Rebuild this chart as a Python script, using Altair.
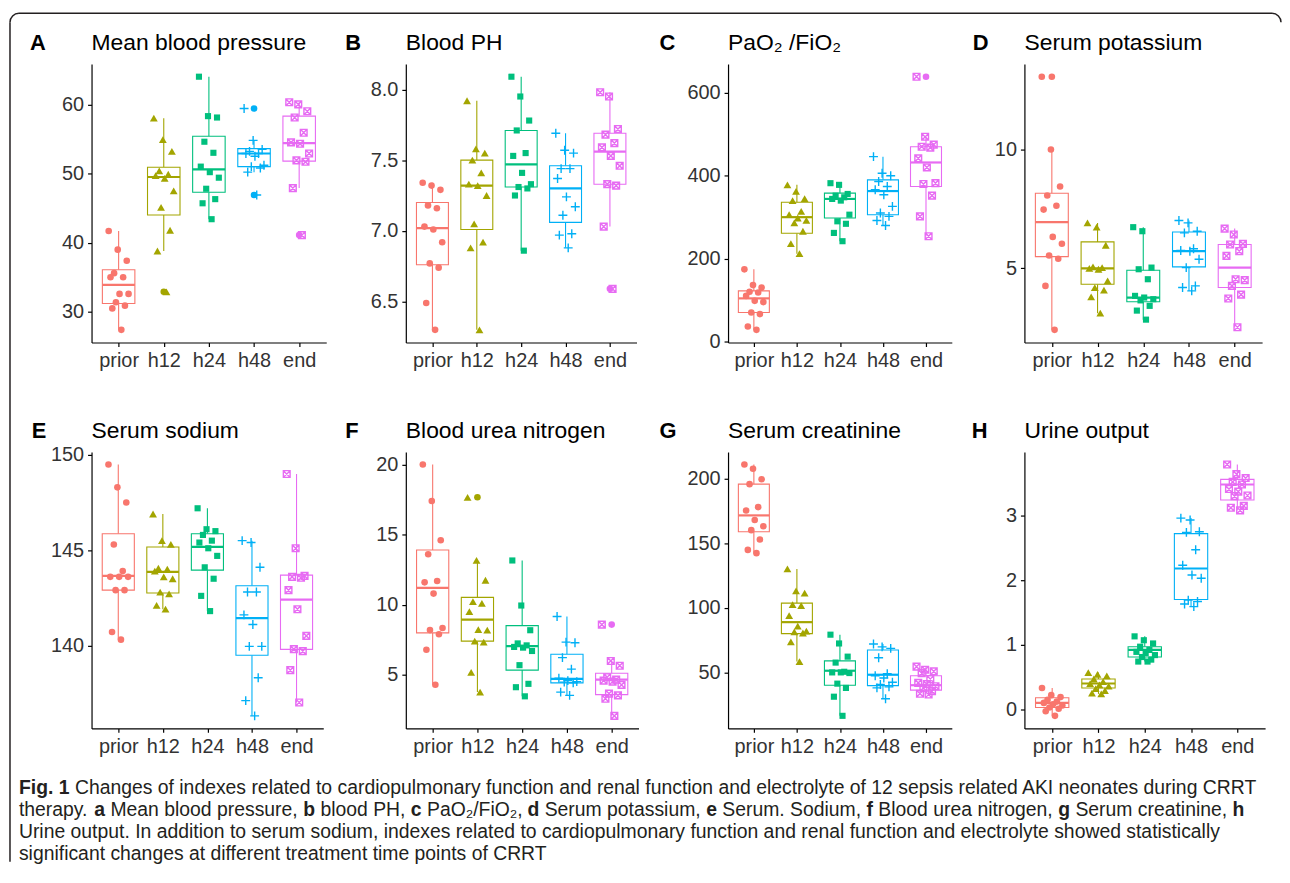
import altair as alt
import pandas as pd

GROUPS = ["prior", "h12", "h24", "h48", "end"]
COLORS = ["#F8766D", "#A3A500", "#00BF7D", "#00B0F6", "#E76BF3"]

# ---------------- A: Mean blood pressure ----------------
mbp_pts = [
    [41.7, 39.0, 37.4, 35.6, 35.0, 35.0, 32.6, 32.6, 31.4, 30.9, 30.5, 27.4],
    [58.0, 54.9, 53.2, 50.4, 49.9, 49.7, 49.3, 47.5, 45.1, 41.8, 38.8, 32.9],
    [64.0, 58.3, 58.1, 54.6, 53.0, 51.0, 50.2, 49.4, 47.8, 46.3, 45.7, 43.4],
    [59.4, 54.8, 53.5, 53.2, 52.9, 52.9, 52.5, 51.2, 51.0, 50.8, 50.2, 46.9],
    [60.3, 60.0, 59.0, 58.1, 55.9, 54.5, 54.3, 52.9, 51.9, 51.7, 47.9, 41.1],
]
mbp_box = [
    [27.4, 31.2, 33.9, 36.1, 41.7],
    [38.8, 44.0, 49.5, 50.9, 58.0],
    [43.4, 47.3, 50.6, 55.4, 64.0],
    [50.2, 51.0, 52.9, 53.6, 54.8],
    [47.9, 51.8, 54.4, 58.3, 60.3],
]
mbp_out = [[], [32.9], [], [59.4, 46.9], [41.1]]

# ---------------- B: Blood PH ----------------
ph_pts = [
    [7.34, 7.32, 7.29, 7.18, 7.16, 7.03, 7.01, 6.92, 6.77, 6.74, 6.49, 6.30],
    [7.92, 7.58, 7.55, 7.50, 7.41, 7.33, 7.32, 7.25, 7.05, 6.92, 6.88, 6.30],
    [8.09, 7.95, 7.78, 7.71, 7.55, 7.53, 7.41, 7.33, 7.31, 7.30, 7.25, 6.86],
    [7.69, 7.57, 7.55, 7.44, 7.44, 7.37, 7.24, 7.17, 7.11, 6.98, 6.97, 6.88],
    [7.98, 7.95, 7.72, 7.68, 7.62, 7.59, 7.53, 7.46, 7.33, 7.32, 7.03, 6.59],
]
ph_box = [
    [6.30, 6.76, 7.02, 7.20, 7.34],
    [6.30, 7.01, 7.32, 7.50, 7.92],
    [6.86, 7.31, 7.47, 7.71, 8.09],
    [6.88, 7.06, 7.30, 7.46, 7.69],
    [7.03, 7.33, 7.56, 7.69, 7.98],
]
ph_out = [[], [], [], [], [6.59]]

# ---------------- C: PaO2/FiO2 ----------------
pf_pts = [
    [174, 136, 130, 120, 118, 110, 98, 95, 70, 66, 36, 28],
    [378, 362, 345, 340, 314, 306, 298, 292, 286, 266, 236, 212],
    [382, 378, 356, 352, 348, 344, 340, 306, 290, 284, 262, 242],
    [446, 406, 400, 386, 374, 366, 354, 326, 310, 302, 292, 280],
    [639, 494, 475, 470, 468, 442, 420, 382, 380, 352, 302, 254],
]
pf_box = [
    [28, 70, 104, 122, 174],
    [212, 261, 300, 336, 378],
    [242, 298, 344, 358, 382],
    [280, 306, 363, 390, 446],
    [254, 374, 432, 470, 494],
]
pf_out = [[], [], [], [], [639]]

# ---------------- D: Serum potassium ----------------
k_pts = [
    [13.06, 10.0, 8.44, 8.06, 7.63, 7.47, 6.32, 6.03, 5.54, 5.40, 4.26, 2.41],
    [6.91, 6.73, 5.97, 5.06, 5.03, 5.00, 4.96, 4.47, 4.19, 4.08, 3.80, 3.11],
    [6.73, 6.56, 5.03, 4.96, 4.54, 3.84, 3.77, 3.70, 3.65, 3.42, 3.22, 2.84],
    [7.01, 6.91, 6.56, 6.49, 5.82, 5.75, 5.72, 5.38, 5.03, 4.26, 4.19, 4.05],
    [6.67, 6.42, 6.03, 6.00, 5.72, 5.52, 4.54, 4.50, 4.26, 3.89, 3.73, 2.52],
]
k_box = [
    [2.41, 5.49, 6.94, 8.16, 10.0],
    [3.11, 4.33, 5.00, 6.11, 6.91],
    [2.84, 3.59, 3.77, 4.92, 6.73],
    [4.05, 5.06, 5.72, 6.53, 7.01],
    [2.52, 4.19, 5.03, 6.00, 6.67],
]
k_out = [[13.06], [], [], [], []]

# ---------------- E: Serum sodium ----------------
na_pts = [
    [149.5, 148.3, 147.5, 145.3, 143.9, 143.6, 143.6, 143.6, 142.9, 142.9, 140.7, 140.3],
    [146.9, 145.5, 145.3, 144.05, 144.0, 143.9, 143.6, 143.5, 142.8, 142.7, 142.1, 141.9],
    [147.2, 146.1, 146.0, 145.8, 145.5, 145.4, 145.1, 144.7, 144.1, 143.5, 142.6, 141.8],
    [145.5, 145.4, 144.1, 142.8, 142.8, 141.6, 141.1, 139.95, 139.95, 138.3, 137.1, 136.3],
    [149.0, 145.1, 143.65, 143.6, 143.55, 142.9, 141.9, 140.5, 139.8, 139.7, 138.7, 137.0],
]
na_box = [
    [140.3, 142.9, 143.65, 145.86, 149.5],
    [141.9, 142.75, 143.86, 145.17, 146.9],
    [141.8, 143.95, 145.17, 145.86, 147.2],
    [136.3, 139.48, 141.43, 143.13, 145.5],
    [137.0, 139.79, 142.4, 143.69, 149.0],
]
na_out = [[], [], [], [], []]

# ---------------- F: Blood urea nitrogen ----------------
bun_pts = [
    [20.0, 17.4, 14.6, 13.6, 11.7, 11.6, 10.8, 8.35, 8.2, 7.9, 6.8, 4.3],
    [17.66, 13.16, 11.75, 10.23, 10.11, 9.52, 8.23, 8.2, 7.41, 7.34, 5.19, 3.78],
    [13.16, 9.95, 8.19, 7.25, 7.11, 7.0, 6.95, 6.71, 5.70, 4.37, 4.13, 3.48],
    [9.17, 7.34, 7.30, 6.24, 5.42, 4.77, 4.60, 4.53, 4.49, 4.45, 3.78, 3.55],
    [8.59, 6.0, 5.66, 4.84, 4.67, 4.60, 4.53, 4.30, 3.67, 3.55, 3.31, 2.09],
]
bun_box = [
    [4.3, 8.0, 11.21, 13.91, 20.0],
    [3.78, 7.41, 8.94, 10.53, 13.16],
    [3.48, 5.35, 7.06, 8.52, 13.16],
    [3.55, 4.44, 4.72, 6.48, 9.17],
    [2.09, 3.60, 4.67, 5.12, 6.0],
]
bun_out = [[], [17.66], [], [], [8.59]]

# ---------------- G: Serum creatinine ----------------
cr_pts = [
    [210.9, 207.6, 199.5, 195.7, 177.9, 175.3, 167.9, 163.1, 160.1, 152.9, 144.8, 142.3],
    [130.1, 113.1, 111.3, 102.4, 101.6, 94.0, 85.8, 82.0, 81.3, 80.5, 73.6, 58.4],
    [79.2, 72.4, 62.2, 57.6, 50.5, 50.0, 50.0, 49.5, 41.3, 38.0, 31.2, 16.4],
    [72.0, 69.8, 68.6, 61.4, 49.0, 47.4, 45.7, 42.4, 40.6, 38.8, 38.0, 29.6],
    [54.5, 52.1, 50.8, 49.5, 44.9, 41.9, 41.0, 39.3, 38.0, 35.5, 33.5, 32.9],
]
cr_box = [
    [142.3, 158.8, 171.5, 195.7, 210.9],
    [58.4, 80.0, 88.9, 103.6, 130.1],
    [16.4, 40.1, 51.3, 58.9, 79.2],
    [29.6, 39.8, 48.2, 67.3, 72.0],
    [32.9, 36.3, 40.1, 47.4, 54.5],
]
cr_out = [[], [], [], [], []]

# ---------------- H: Urine output ----------------
uo_pts = [
    [0.33, 0.22, 0.19, 0.15, 0.12, 0.10, 0.08, 0.06, 0.03, 0.01, -0.03, -0.10],
    [0.57, 0.54, 0.52, 0.47, 0.43, 0.40, 0.38, 0.36, 0.32, 0.29, 0.25, 0.24],
    [1.13, 1.07, 1.02, 0.97, 0.92, 0.89, 0.87, 0.84, 0.81, 0.77, 0.74, 0.74],
    [2.96, 2.93, 2.75, 2.74, 2.47, 2.23, 2.08, 2.03, 1.69, 1.67, 1.63, 1.59],
    [3.79, 3.64, 3.58, 3.52, 3.48, 3.41, 3.37, 3.31, 3.30, 3.15, 3.12, 3.08],
]
uo_box = [
    [-0.10, 0.03, 0.10, 0.18, 0.33],
    [0.24, 0.33, 0.40, 0.47, 0.57],
    [0.74, 0.81, 0.92, 0.97, 1.13],
    [1.59, 1.70, 2.18, 2.72, 2.96],
    [3.08, 3.24, 3.48, 3.56, 3.79],
]
uo_out = [[], [], [], [], []]

CAPTION = [
    [("Fig. 1", True),
     (" Changes of indexes related to cardiopulmonary function and renal function and electrolyte of 12 sepsis related AKI neonates during CRRT", False)],
    [("therapy. ", False), ("a", True), (" Mean blood pressure, ", False), ("b", True),
     (" blood PH, ", False), ("c", True), (" PaO\u2082/FiO\u2082, ", False), ("d", True),
     (" Serum potassium, ", False), ("e", True), (" Serum. Sodium, ", False), ("f", True),
     (" Blood urea nitrogen, ", False), ("g", True), (" Serum creatinine, ", False), ("h", True)],
    [("Urine output. In addition to serum sodium, indexes related to cardiopulmonary function and renal function and electrolyte showed statistically", False)],
    [("significant changes at different treatment time points of CRRT", False)],
]

# ---------------- styling ----------------
FONT = "Liberation Sans, Arial, Helvetica, sans-serif"
SHAPES = ["circle", "triangle-up", "square", "M-1,0H1M0,-1V1",
          "M-1,-1H1V1H-1ZM-1,-1L1,1M-1,1L1,-1"]
SIZES = [44, 62, 38, 80, 46]
FILLED = [True, True, True, False, False]
FRAME_C = "#231F20"

PANELS = [
    dict(letter="A", title="Mean blood pressure", pts=mbp_pts, box=mbp_box, out=mbp_out,
         ticks=[30, 40, 50, 60], fmt="d", w=236, h=280, ldx=-62, frame=True),
    dict(letter="B", title="Blood PH", pts=ph_pts, box=ph_box, out=ph_out,
         ticks=[6.5, 7.0, 7.5, 8.0], fmt=".1f", w=232, h=280, ldx=-61),
    dict(letter="C", title="PaO\u2082 /FiO\u2082", pts=pf_pts, box=pf_box, out=pf_out,
         ticks=[0, 200, 400, 600], fmt="d", w=225, h=280, ldx=-69),
    dict(letter="D", title="Serum potassium", pts=k_pts, box=k_box, out=k_out,
         ticks=[5, 10], fmt="d", w=239, h=280, ldx=-52),
    dict(letter="E", title="Serum sodium", pts=na_pts, box=na_box, out=na_out,
         ticks=[140, 145, 150], fmt="d", w=233, h=278, ldx=-60),
    dict(letter="F", title="Blood urea nitrogen", pts=bun_pts, box=bun_box, out=bun_out,
         ticks=[5, 10, 15, 20], fmt="d", w=234, h=278, ldx=-61),
    dict(letter="G", title="Serum creatinine", pts=cr_pts, box=cr_box, out=cr_out,
         ticks=[50, 100, 150, 200], fmt="d", w=225, h=278, ldx=-69),
    dict(letter="H", title="Urine output", pts=uo_pts, box=uo_box, out=uo_out,
         ticks=[0, 1, 2, 3], fmt="d", w=242, h=278, ldx=-53),
]
GAPS = [80, 90, 73]   # horizontal gaps between the four panel columns

LABEL_EXPR = "[" + ",".join("'%s'" % g for g in GROUPS) + "][datum.value - 1]"
BOX_HALF = 0.36


def make_panel(p):
    prow = []
    for gi, g in enumerate(GROUPS):
        vals = p["pts"][gi]
        n = len(vals)
        for i, v in enumerate(vals):
            jit = (((i * 5) % n) / (n - 1) - 0.5) * 0.44
            prow.append({"g": g, "gi": gi, "x": gi + 1 + jit, "v": v})
    pdf = pd.DataFrame(prow)
    brow = []
    for gi, g in enumerate(GROUPS):
        lo, q1, md, q3, hi = p["box"][gi]
        brow.append({"g": g, "c": gi + 1, "xl": gi + 1 - BOX_HALF, "xr": gi + 1 + BOX_HALF,
                     "lo": lo, "q1": q1, "md": md, "q3": q3, "hi": hi})
    bdf = pd.DataFrame(brow)
    orow = [{"g": GROUPS[gi], "c": gi + 1, "v": v} for gi in range(5) for v in p["out"][gi]]

    allv = list(pdf["v"]) + [r["v"] for r in orow] + list(bdf["lo"]) + list(bdf["hi"])
    vmin, vmax = min(allv), max(allv)
    pad = (vmax - vmin) * 0.05
    ysc = alt.Scale(domain=[vmin - pad, vmax + pad], nice=False, zero=False)
    xsc = alt.Scale(domain=[0.4, 5.6], nice=False, zero=False)
    xax = alt.Axis(values=[1, 2, 3, 4, 5], labelExpr=LABEL_EXPR, title=None, grid=False,
                   labelOverlap=False, labelPadding=4)
    yax = alt.Axis(values=p["ticks"], format=p["fmt"], title=None, grid=False,
                   labelOverlap=False, labelPadding=4)
    col = alt.Color("g:N", scale=alt.Scale(domain=GROUPS, range=COLORS), legend=None)
    stk = alt.Stroke("g:N", scale=alt.Scale(domain=GROUPS, range=COLORS), legend=None)

    def X(f):
        return alt.X(f, scale=xsc, axis=xax)

    def Y(f):
        return alt.Y(f, scale=ysc, axis=yax)

    base_b = alt.Chart(bdf)
    layers = [
        base_b.mark_rule(strokeWidth=1.1).encode(x=X("c:Q"), y=Y("lo:Q"), y2="q1:Q", color=col),
        base_b.mark_rule(strokeWidth=1.1).encode(x=X("c:Q"), y=Y("q3:Q"), y2="hi:Q", color=col),
        base_b.mark_rect(fill="white", strokeWidth=1.1).encode(
            x=X("xl:Q"), x2="xr:Q", y=Y("q1:Q"), y2="q3:Q", stroke=stk),
        base_b.mark_rule(strokeWidth=2.2).encode(x=X("xl:Q"), x2="xr:Q", y=Y("md:Q"), color=col),
    ]
    if orow:
        layers.append(alt.Chart(pd.DataFrame(orow)).mark_point(
            filled=True, shape="circle", size=44, opacity=1).encode(
            x=X("c:Q"), y=Y("v:Q"), color=col))
    for gi in range(5):
        sub = pdf[pdf["gi"] == gi]
        kw = dict(shape=SHAPES[gi], size=SIZES[gi], filled=FILLED[gi], opacity=1,
                  color=COLORS[gi])
        if not FILLED[gi]:
            kw["strokeWidth"] = 1.4
        layers.append(alt.Chart(sub).mark_point(**kw).encode(x=X("x:Q"), y=Y("v:Q")))

    # panel letter and panel title
    one = pd.DataFrame({"t": [p["letter"]], "s": [p["title"]]})
    layers.append(alt.Chart(one).mark_text(
        align="left", baseline="alphabetic", font=FONT, fontSize=22, fontWeight="bold",
        color="black").encode(text="t:N", x=alt.value(p["ldx"]), y=alt.value(-14)))
    layers.append(alt.Chart(one).mark_text(
        align="left", baseline="alphabetic", font=FONT, fontSize=23,
        color="black").encode(text="s:N", x=alt.value(0), y=alt.value(-14)))

    if p.get("frame"):
        fr = pd.DataFrame({"k": [0]})
        layers += [
            alt.Chart(fr).mark_rule(color=FRAME_C, strokeWidth=1.5).encode(
                x=alt.value(-82), y=alt.value(-42), y2=alt.value(802)),
            alt.Chart(fr).mark_rule(color=FRAME_C, strokeWidth=1.5).encode(
                x=alt.value(-73), x2=alt.value(1187), y=alt.value(-51)),
            alt.Chart(fr).mark_arc(radius=9.75, radius2=8.25, theta=4.712389, theta2=6.283185,
                                   color=FRAME_C).encode(x=alt.value(-73), y=alt.value(-42)),
            alt.Chart(fr).mark_arc(radius=9.75, radius2=8.25, theta=0.0, theta2=1.570796,
                                   color=FRAME_C).encode(x=alt.value(1187), y=alt.value(-42)),
        ]

    return alt.layer(*layers).properties(width=p["w"], height=p["h"])


def spacer(w):
    return alt.Chart(pd.DataFrame({"z": [0]})).mark_point(opacity=0, size=1).encode(
        x=alt.value(0), y=alt.value(0)).properties(width=w, height=1)


# ---------------- caption (Arial-compatible advance widths, per 1000 em) ----------------
AR = dict(zip(" !,./0123456789:;()-",
              [278, 278, 278, 278, 278] + [556] * 10 + [278, 278, 333, 333, 333]))
AR.update(dict(zip("abcdefghijklmnopqrstuvwxyz",
                   [556, 556, 500, 556, 556, 278, 556, 556, 222, 222, 500, 222, 833,
                    556, 556, 556, 556, 333, 500, 278, 556, 500, 722, 500, 500, 500])))
AR.update(dict(zip("ABCDEFGHIJKLMNOPQRSTUVWXYZ",
                   [667, 667, 722, 722, 667, 611, 778, 722, 278, 500, 667, 556, 833,
                    722, 778, 667, 778, 722, 667, 611, 722, 667, 944, 667, 667, 611])))
AR["\u2082"] = 370
AB = dict(AR)
AB.update({"a": 556, "b": 611, "c": 556, "d": 611, "e": 556, "f": 333, "g": 611,
           "h": 611, "F": 611, "i": 278})


def tw(s, bold):
    t = AB if bold else AR
    return sum(t.get(ch, 556) for ch in s) / 1000.0


CAP_X = -73         # left of caption lines, relative to the caption cell (A's column)
CAP_W = 1246        # width of the first caption line
CAP_Y = [-44, -22, 0, 22]
FS = CAP_W / sum(tw(t, b) for t, b in CAPTION[0])

crow = []
for li, line in enumerate(CAPTION):
    x = CAP_X
    for text, bold in line:
        lead = len(text) - len(text.lstrip(" "))
        crow.append({"x": x + tw(text[:lead], bold) * FS, "y": CAP_Y[li],
                     "t": text.strip(" "), "b": int(bold)})
        x += tw(text, bold) * FS
cdf = pd.DataFrame(crow)
cbase = alt.Chart(cdf)
cap_enc = dict(x=alt.X("x:Q", scale=None, axis=None), y=alt.Y("y:Q", scale=None, axis=None),
               text="t:N")
caption = alt.layer(
    cbase.transform_filter("datum.b == 0").mark_text(
        align="left", baseline="alphabetic", font=FONT, fontSize=FS, color="#231F20").encode(**cap_enc),
    cbase.transform_filter("datum.b == 1").mark_text(
        align="left", baseline="alphabetic", font=FONT, fontSize=FS, fontWeight="bold",
        color="#231F20").encode(**cap_enc),
).properties(width=1, height=1)

cells = [make_panel(p) for p in PANELS]
chart = alt.concat(
    cells[0], spacer(GAPS[0]), cells[1], spacer(GAPS[1]), cells[2], spacer(GAPS[2]), cells[3],
    cells[4], spacer(GAPS[0]), cells[5], spacer(GAPS[1]), cells[6], spacer(GAPS[2]), cells[7],
    caption,
    columns=7, spacing={"row": 110, "column": 0}, bounds="flush", align="each",
).properties(
    padding={"left": 1, "top": 2, "right": 0, "bottom": 0}
).configure_view(stroke=None).configure_axis(
    domainColor="black", domainWidth=1.2, tickColor="black", tickWidth=1.2, tickSize=4,
    labelFont=FONT, labelFontSize=20, labelColor="#333333", grid=False,
)

chart.save("out.html", embed_options={"renderer": "svg", "actions": False})
